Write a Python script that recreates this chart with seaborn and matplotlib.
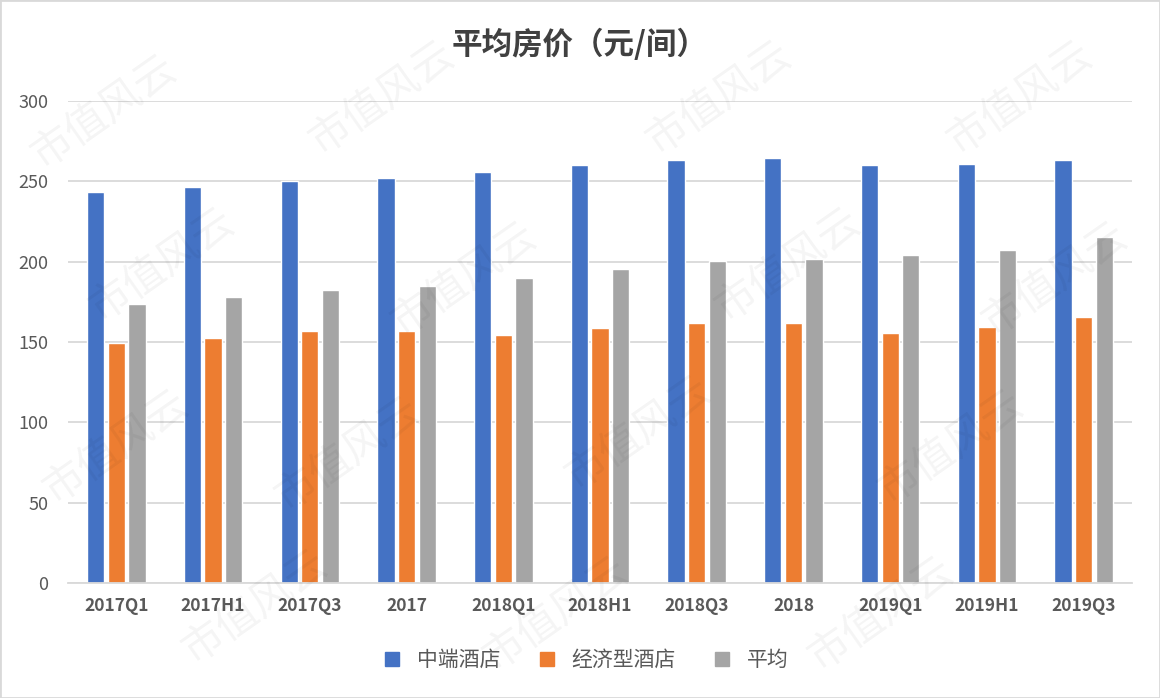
import matplotlib
matplotlib.use("Agg")
import matplotlib.pyplot as plt
import seaborn as sns
import pandas as pd
from matplotlib.lines import Line2D

periods = ["2017Q1", "2017H1", "2017Q3", "2017", "2018Q1", "2018H1",
           "2018Q3", "2018", "2019Q1", "2019H1", "2019Q3"]
midscale = [243.5, 246.4, 250.0, 252.0, 255.6, 259.9, 263.4, 264.3, 259.9, 260.5, 263.4]
economy = [149.3, 152.7, 157.0, 157.0, 154.3, 158.5, 162.0, 162.0, 155.6, 159.1, 165.5]
average = [173.4, 177.8, 182.5, 184.6, 189.6, 195.4, 200.4, 201.6, 203.9, 207.4, 215.1]
series_names = ["中端酒店", "经济型酒店", "平均"]
colors = ["#4472C4", "#ED7D31", "#A5A5A5"]

df = pd.DataFrame({"period": periods, series_names[0]: midscale,
                   series_names[1]: economy, series_names[2]: average})
long_df = df.melt(id_vars="period", var_name="series", value_name="price")

sns.set_theme(style="white")
plt.rcParams["font.family"] = ["Noto Sans CJK SC", "DejaVu Sans"]

fig = plt.figure(figsize=(11.6, 6.98), dpi=100)
ax = fig.add_axes([68 / 1160, 1 - 583 / 698, (1132 - 68) / 1160, (583 - 101) / 698])

sns.barplot(data=long_df, x="period", y="price", hue="series", palette=colors,
            hue_order=series_names, order=periods, width=0.64, saturation=1,
            legend=False, ax=ax)

# shrink bars a bit so there's a white gap between them
for p in ax.patches:
    w = p.get_width()
    p.set_x(p.get_x() + (w - 0.178) / 2)
    p.set_width(0.178)

ax.set_ylim(0, 300)
ax.set_yticks(range(0, 301, 50))
ax.set_xlim(-0.5, len(periods) - 0.5)
ax.yaxis.grid(True, color="#D9D9D9", linewidth=1.3)
ax.set_axisbelow(True)
for s in ["top", "right", "left"]:
    ax.spines[s].set_visible(False)
ax.spines["bottom"].set_color("#D9D9D9")
ax.spines["bottom"].set_linewidth(1.3)
ax.set_xlabel("")
ax.set_ylabel("")
ax.tick_params(axis="both", length=0, colors="#595959")
ax.tick_params(axis="y", labelsize=13, pad=14)
ax.tick_params(axis="x", labelsize=12.5, pad=10)
for lbl in ax.get_xticklabels():
    lbl.set_fontweight("bold")

fig.text(0.5, 1 - 45 / 698, "平均房价（元/间）", ha="center", va="center",
         fontsize=22, fontweight="bold", color="#404040")

handles = [Line2D([0], [0], marker="s", linestyle="", markersize=10,
                  markerfacecolor=c, markeredgecolor=c) for c in colors]
fig.legend(handles, series_names, loc="center", bbox_to_anchor=(0.5, 1 - 660 / 698),
           ncol=3, frameon=False, fontsize=15, handletextpad=0.2, columnspacing=1.2,
           labelcolor="#595959")

# faint watermark
for x, y in [(0.09, 0.84), (0.33, 0.86), (0.62, 0.86), (0.88, 0.86), (0.14, 0.62),
             (0.4, 0.6), (0.68, 0.62), (0.91, 0.6), (0.1, 0.36), (0.3, 0.35),
             (0.55, 0.38), (0.82, 0.36), (0.22, 0.13), (0.48, 0.12), (0.76, 0.12)]:
    fig.text(x, y, "市值风云", rotation=35, fontsize=30, color="#000000",
             alpha=0.045, ha="center", va="center")

fig.patches.append(plt.Rectangle((0, 0), 1, 1, transform=fig.transFigure,
                                 fill=False, edgecolor="#D9D9D9", linewidth=2))

fig.savefig("out.png", dpi=100)
